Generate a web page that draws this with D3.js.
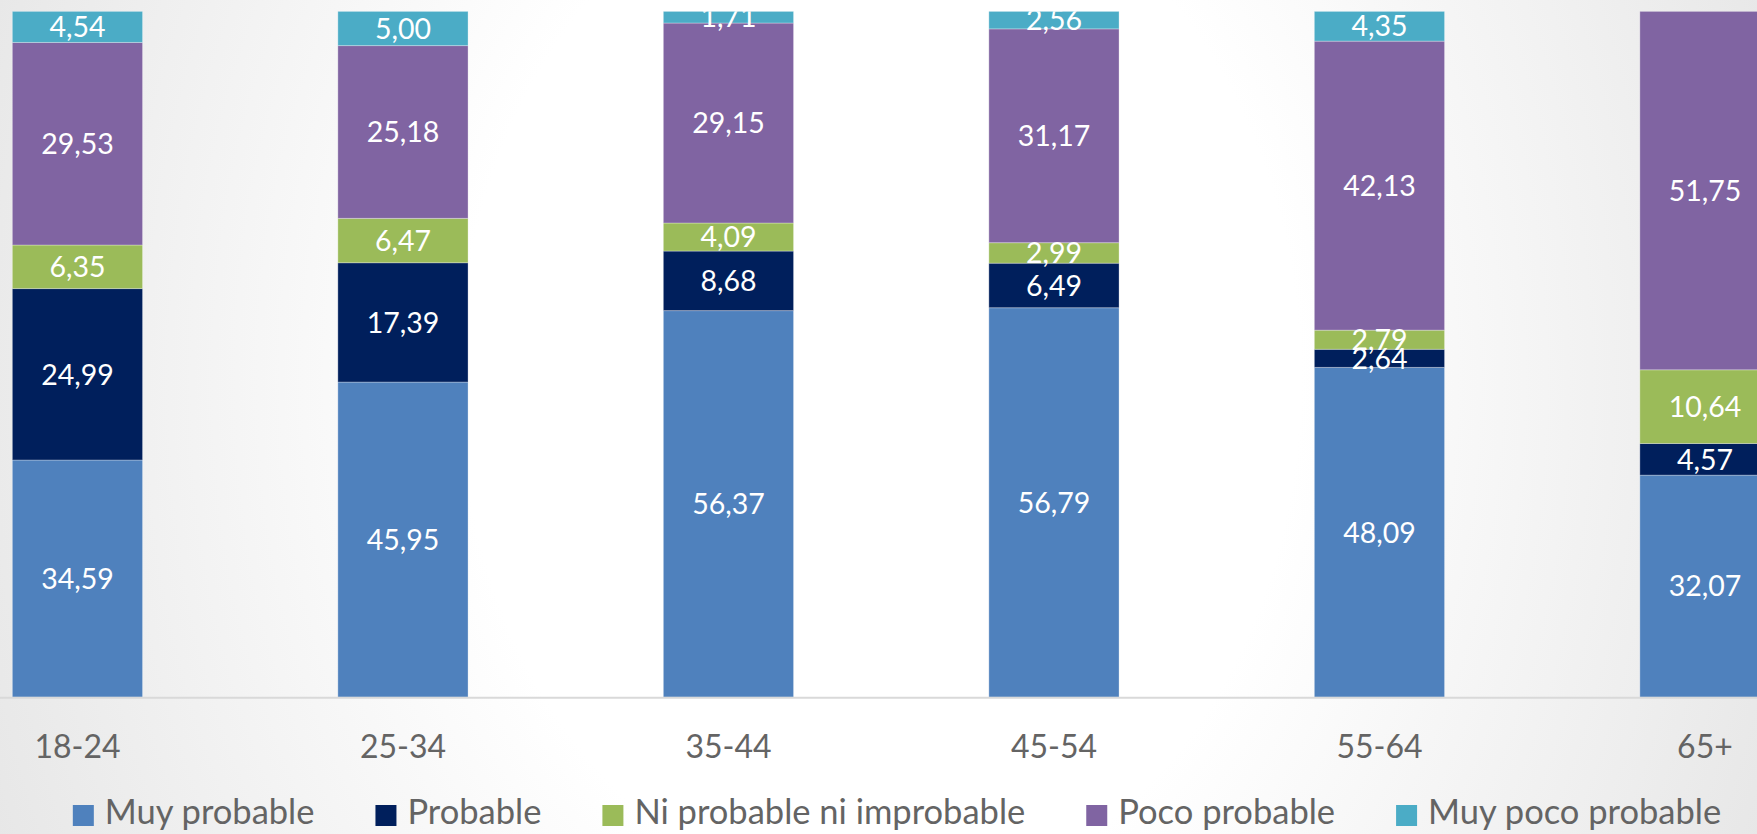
<!DOCTYPE html>
<html>
<head>
<meta charset="utf-8">
<script src="https://cdn.jsdelivr.net/npm/d3@7"></script>
<style>
  html, body { margin: 0; padding: 0; overflow: hidden; background: #fff; }
  svg { display: block; }
</style>
</head>
<body>
<svg id="chart" width="1757" height="834"></svg>
<script>
// Age groups and the share (%) of each answer in every group
const categories = ["18-24", "25-34", "35-44", "45-54", "55-64", "65+"];
const muyProbable     = [34.59, 45.95, 56.37, 56.79, 48.09, 32.07];
const probable        = [24.99, 17.39, 8.68, 6.49, 2.64, 4.57];
const niProbable      = [6.35, 6.47, 4.09, 2.99, 2.79, 10.64];
const pocoProbable    = [29.53, 25.18, 29.15, 31.17, 42.13, 51.75];
const muyPocoProbable = [4.54, 5.00, 1.71, 2.56, 4.35, null];

const seriesNames = ["Muy probable", "Probable", "Ni probable ni improbable", "Poco probable", "Muy poco probable"];
const seriesValues = [muyProbable, probable, niProbable, pocoProbable, muyPocoProbable];
const seriesColors = ["#4f81bd", "#001f5c", "#9bbb59", "#8064a2", "#4bacc6"];

const W = 1757, H = 834;
const FONT = "Lato, 'Open Sans', 'DejaVu Sans', sans-serif";

const rows = categories.map((c, i) => {
  const r = { cat: c };
  seriesNames.forEach((s, k) => { r[s] = seriesValues[k][i] == null ? 0 : seriesValues[k][i]; });
  return r;
});

const svg = d3.select("#chart");

// soft grey vignette behind the chart
const defs = svg.append("defs");
const grad = defs.append("radialGradient")
  .attr("id", "bg")
  .attr("gradientUnits", "userSpaceOnUse")
  .attr("cx", 880).attr("cy", 380).attr("r", 1000)
  .attr("gradientTransform", "translate(880,380) scale(1,1.25) translate(-880,-380)");
grad.append("stop").attr("offset", 0.42).attr("stop-color", "#ffffff");
grad.append("stop").attr("offset", 1).attr("stop-color", "#e5e5e5");
svg.append("rect").attr("width", W).attr("height", H).attr("fill", "url(#bg)");

// plot area
const plotTop = 11.3, plotBottom = 697.3;
const x = d3.scaleBand().domain(categories).range([-85.3, 1867.7]).paddingInner(0.6).paddingOuter(0.3);
const y = d3.scaleLinear().domain([0, 1]).range([plotBottom, plotTop]);

defs.append("clipPath").attr("id", "plotClip")
  .append("rect").attr("x", -200).attr("y", plotTop).attr("width", W + 400).attr("height", plotBottom - plotTop + 1);

// 100% stacked layout
const stack = d3.stack().keys(seriesNames).offset(d3.stackOffsetExpand);
const stacked = stack(rows);

const plot = svg.append("g").attr("clip-path", "url(#plotClip)");

plot.selectAll("g.series")
  .data(stacked)
  .join("g")
  .attr("class", "series")
  .attr("fill", (d, i) => seriesColors[i])
  .selectAll("rect")
  .data(d => d)
  .join("rect")
  .attr("x", d => x(d.data.cat))
  .attr("width", x.bandwidth())
  .attr("y", d => y(d[1]))
  .attr("height", d => Math.max(0, y(d[0]) - y(d[1])))
  .attr("stroke", "rgba(255,255,255,0.3)")
  .attr("stroke-width", 1);

// value labels
const locale = d3.formatLocale({ decimal: ",", thousands: ".", grouping: [3], currency: ["", "€"] });
const fmt = locale.format(".2f");
const valueSize = 28.5;

stacked.forEach((layer, k) => {
  plot.append("g")
    .selectAll("text")
    .data(layer.filter((d, i) => seriesValues[k][i] != null))
    .join("text")
    .attr("x", d => x(d.data.cat) + x.bandwidth() / 2)
    .attr("y", d => (y(d[0]) + y(d[1])) / 2 + valueSize * 0.36)
    .attr("text-anchor", "middle")
    .attr("fill", "#ffffff")
    .attr("font-family", FONT)
    .attr("font-size", valueSize)
    .text(d => fmt(d.data[layer.key]));
});

// category axis
const axis = svg.append("g")
  .attr("transform", `translate(0,${plotBottom})`)
  .call(d3.axisBottom(x).tickSize(0).tickSizeOuter(0));
axis.select(".domain").attr("stroke", "#d9d9d9").attr("stroke-width", 2);
axis.selectAll(".tick text")
  .attr("y", 60.7)
  .attr("dy", 0)
  .attr("fill", "#646464")
  .attr("font-family", FONT)
  .attr("font-size", 32);

// legend
const legendSize = 34.5;
const legend = svg.append("g");
const items = legend.selectAll("g")
  .data(seriesNames)
  .join("g");
items.append("rect")
  .attr("width", 21).attr("height", 21)
  .attr("y", 805)
  .attr("fill", (d, i) => seriesColors[i]);
items.append("text")
  .attr("x", 32)
  .attr("y", 824)
  .attr("fill", "#646464")
  .attr("font-family", FONT)
  .attr("font-size", legendSize)
  .text(d => d);

let offset = 0;
const offsets = [];
items.each(function () {
  const w = d3.select(this).select("text").node().getComputedTextLength();
  offsets.push(offset);
  offset += 32 + w + 61;
});
const totalW = offset - 61;
const start = 897 - totalW / 2;
items.attr("transform", (d, i) => `translate(${start + offsets[i]},0)`);
</script>
</body>
</html>
